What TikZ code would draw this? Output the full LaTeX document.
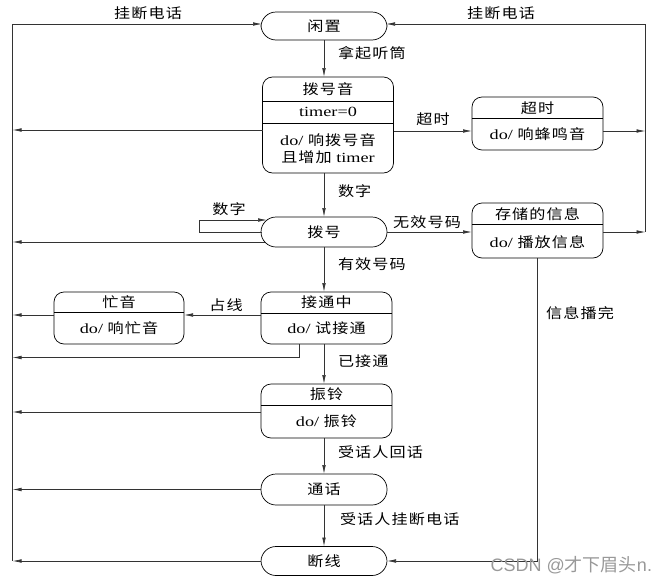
\documentclass[tikz,border=0pt]{standalone}
\usepackage{fontspec}
\setmainfont{Liberation Serif}[FakeStretch=1.3]
\newfontfamily\cjk{Noto Sans CJK SC}[FakeStretch=1.15,LetterSpace=8]
\newfontfamily\wmfont{Liberation Sans}
\newfontfamily\wmcjk{Noto Sans CJK SC}
\usetikzlibrary{arrows.meta}
\begin{document}
\begin{tikzpicture}[x=1pt,y=-1pt,
  every node/.style={inner sep=0pt, outer sep=0pt, font=\fontsize{14}{16}\selectfont},
  box/.style={draw=black, line width=0.7pt, rounded corners=10pt, minimum width=130pt, minimum height=53pt},
  stad/.style={draw=black, line width=0.7pt, rounded corners=15pt, minimum width=126pt, minimum height=30pt},
  ln/.style={draw=black!80, line width=0.7pt},
  conn/.style={ln, -{Latex[length=9pt,width=3.6pt]}},
  lbl/.style={anchor=west},
  clbl/.style={anchor=center}]
\useasboundingbox (0,0) rectangle (664,584);

% states
\node[stad, minimum height=28pt] (idle) at (324,26) {\cjk 闲置};
\node[box, minimum height=96pt, minimum width=131pt] (dial) at (328,125) {};
\node[box, minimum height=53pt, minimum width=131pt] (tout) at (537.5,123.5) {};
\node[stad] (dialing) at (324,232) {\cjk 拨号};
\node[box, minimum height=55pt, minimum width=131pt] (stored) at (537.5,230.5) {};
\node[box, minimum width=131pt, minimum height=52pt] (conn) at (326.5,318) {};
\node[box, minimum height=52pt] (busy) at (119,318) {};
\node[box, minimum width=131pt, minimum height=54pt] (ring) at (326.5,411) {};
\node[stad, minimum height=31pt] (talk) at (324,489.5) {\cjk 通话};
\node[stad, minimum height=29pt] (disc) at (324,561) {\cjk 断线};

% compartments
\draw[line width=0.7pt] (dial.west |- 0,101) -- (dial.east |- 0,101);
\draw[line width=0.7pt] (dial.west |- 0,123) -- (dial.east |- 0,123);
\node (dialT) at (328,89) {\cjk 拨号音};
\node (dialV) at (328,112) {timer=0};
\node (dialA) at (328,140) {do/ {\cjk 响拨号音}};
\node (dialB) at (328,157.5) {{\cjk 且增加} timer};

\draw[line width=0.7pt] (tout.west |- 0,118) -- (tout.east |- 0,118);
\node (toutT) at (537.5,108) {\cjk 超时};
\node (toutA) at (537.5,134.5) {do/ {\cjk 响蜂鸣音}};

\draw[line width=0.7pt] (stored.west |- 0,224) -- (stored.east |- 0,224);
\node (storedT) at (537.5,214) {\cjk 存储的信息};
\node (storedA) at (537.5,242) {do/ {\cjk 播放信息}};

\draw[line width=0.7pt] (conn.west |- 0,313) -- (conn.east |- 0,313);
\node (connT) at (326.5,302.5) {\cjk 接通中};
\node (connA) at (326.5,328.5) {do/ {\cjk 试接通}};

\draw[line width=0.7pt] (busy.west |- 0,312) -- (busy.east |- 0,312);
\node (busyT) at (119,302) {\cjk 忙音};
\node (busyA) at (119,328) {do/ {\cjk 响忙音}};

\draw[line width=0.7pt] (ring.west |- 0,405) -- (ring.east |- 0,405);
\node (ringT) at (326.5,394.5) {\cjk 振铃};
\node (ringA) at (326.5,421) {do/ {\cjk 振铃}};

% frame coordinates
\coordinate (Ltop) at (12.5,24);
\coordinate (Lbot) at (12.5,561);
\coordinate (Rtop) at (645.5,24);
\coordinate (Rbot) at (645.5,232);
\coordinate (Rmid) at (645.5,131);
\coordinate (L131) at (12.5,130);
\coordinate (L242) at (12.5,242);
\coordinate (L316) at (12.5,315);
\coordinate (L358) at (12.5,357.5);
\coordinate (L412) at (12.5,412);
\coordinate (L489) at (12.5,489.5);
\coordinate (loopA) at (199,232);
\coordinate (loopB) at (199,220);
\coordinate (cBend) at (299,357.5);
\coordinate (sBend) at (537,561);
\coordinate (T131) at (0,131);

\draw[ln] (Ltop) -- (Lbot);
\draw[ln] (Rtop) -- (Rbot);
\draw[conn] (Ltop) -- ([xshift=1pt]idle.west |- Ltop);
\draw[conn] (Rtop) -- ([xshift=-1pt]idle.east |- Rtop);

\draw[conn] (idle.south) -- (idle.south |- dial.north);
\draw[conn] (dial.west |- L131) -- (L131);
\draw[conn] (dial.east |- T131) -- (tout.west |- T131);
\draw[conn] (tout.east |- T131) -- (Rmid);
\draw[conn] (dial.south -| dialing.north) -- (dialing.north);

\draw[conn] ([xshift=0.5pt]dialing.west) -- (loopA) -- (loopB) -- ([xshift=6pt,yshift=12pt]dialing.west);
\draw[conn] ([xshift=3.8pt,yshift=-10pt]dialing.west) -- (L242);
\draw[conn] (dialing.east) -- (stored.west |- dialing.east);
\draw[conn] (stored.east |- Rbot) -- (Rbot);
\draw[conn] (dialing.south) -- (dialing.south |- conn.north);

\draw[conn] (conn.west |- L316) -- (busy.east |- L316);
\draw[conn] (busy.west |- L316) -- (L316);
\draw[conn] (conn.south -| cBend) -- (cBend) -- (L358);
\draw[conn] (dialing.south |- conn.south) -- (dialing.south |- ring.north);
\draw[conn] (ring.west |- L412) -- (L412);
\draw[conn] (dialing.south |- ring.south) -- (talk.north);
\draw[conn] (talk.west) -- (L489);
\draw[conn] (talk.south) -- (disc.north);
\draw[conn] (disc.west) -- (Lbot);
\draw[conn] (stored.south -| sBend) -- (sBend) -- (disc.east);

% labels
\node[clbl] (lh1) at (148,13) {\cjk 挂断电话};
\node[clbl] (lh2) at (501,13) {\cjk 挂断电话};
\node[lbl] (l1) at (338,53) {\cjk 拿起听筒};
\node[clbl] (l2) at (433,119) {\cjk 超时};
\node[lbl] (l3) at (338,191) {\cjk 数字};
\node[clbl] (l4) at (229,209) {\cjk 数字};
\node[clbl] (l5) at (427,222) {\cjk 无效号码};
\node[lbl] (l6) at (338,264) {\cjk 有效号码};
\node[clbl] (l7) at (226,305) {\cjk 占线};
\node[lbl] (l8) at (338,361) {\cjk 已接通};
\node[clbl] (l9) at (580,313) {\cjk 信息播完};
\node[lbl] (l10) at (338,452) {\cjk 受话人回话};
\node[lbl] (l11) at (340,519) {\cjk 受话人挂断电话};
\node[anchor=east, text=black!40, font=\fontsize{18}{20}\selectfont] (wm) at (652,565) {\wmfont CSDN @{\wmcjk 才下眉头}n.};
\end{tikzpicture}
\end{document}
